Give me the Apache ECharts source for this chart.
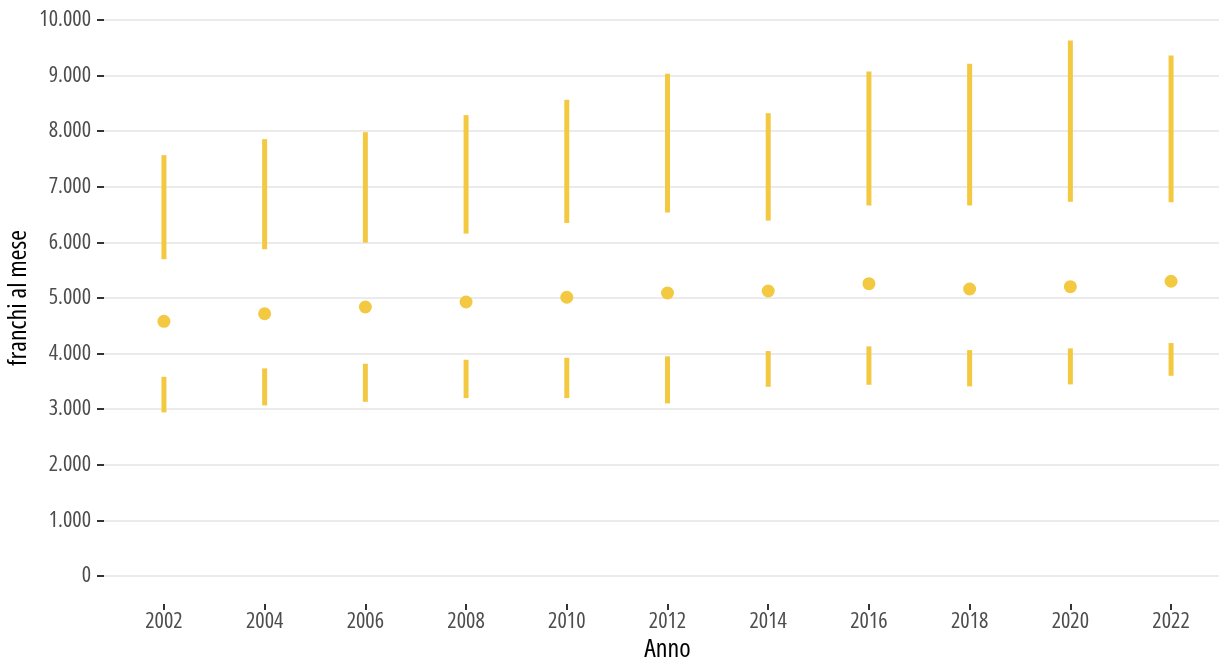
<!DOCTYPE html>
<html>
<head>
<meta charset="utf-8">
<script src="https://cdn.jsdelivr.net/npm/echarts@6/dist/echarts.min.js"></script>
<style>
html,body{margin:0;padding:0;background:#fff;}
#chart{width:1219px;height:661px;}
</style>
</head>
<body>
<div id="chart"></div>
<script>
const years = [2002, 2004, 2006, 2008, 2010, 2012, 2014, 2016, 2018, 2020, 2022];
const upperLow  = [5697, 5877, 5996, 6158, 6350, 6536, 6392, 6662, 6662, 6729, 6723];
const upperHigh = [7569, 7857, 7983, 8289, 8565, 9033, 8325, 9075, 9213, 9633, 9363];
const median    = [4580, 4717, 4838, 4928, 5013, 5090, 5126, 5258, 5162, 5204, 5301];
const lowerLow  = [2942, 3068, 3133, 3200, 3200, 3104, 3403, 3439, 3410, 3446, 3601];
const lowerHigh = [3583, 3734, 3817, 3889, 3925, 3950, 4046, 4130, 4064, 4094, 4190];

const COLOR = '#F4C942';
const FONT = '"Open Sans", sans-serif';
const STRETCH = 'condensed';

function rangeData(lo, hi) { return years.map((y, i) => [y, lo[i], hi[i]]); }
function renderRange(params, api) {
  const a = api.coord([api.value(0), api.value(1)]);
  const b = api.coord([api.value(0), api.value(2)]);
  return {
    type: 'rect',
    shape: { x: a[0] - 2.5, y: b[1], width: 5, height: a[1] - b[1] },
    style: { fill: COLOR }
  };
}
function fmt(v) { return String(v).replace(/\B(?=(\d{3})+(?!\d))/g, '.'); }

const chart = echarts.init(document.getElementById('chart'), null, { renderer: 'canvas' });
chart.setOption({
  animation: false,
  backgroundColor: '#ffffff',
  grid: { left: 104, right: -12, top: 20, bottom: 85, containLabel: false, outerBoundsMode: 'none' },
  xAxis: {
    type: 'value',
    min: 2000.81, max: 2023.19,
    offset: 28,
    name: 'Anno', nameLocation: 'middle', nameGap: 33, nameMoveOverlap: false,
    nameTextStyle: { fontFamily: FONT, fontStyle: STRETCH, fontSize: 26, color: '#000' },
    axisLine: { show: false, onZero: false },
    axisTick: { show: true, length: 6, lineStyle: { color: '#333', width: 2 }, customValues: years },
    axisLabel: { customValues: years, margin: 7, fontFamily: FONT, fontStyle: STRETCH, fontSize: 22, color: '#4D4D4D', formatter: v => String(v) },
    splitLine: { show: false }
  },
  yAxis: {
    type: 'value',
    min: 0, max: 10000, interval: 1000,
    name: 'franchi al mese', nameLocation: 'middle', nameGap: 72, nameMoveOverlap: false,
    nameTextStyle: { fontFamily: FONT, fontStyle: STRETCH, fontSize: 26, color: '#000' },
    axisLine: { show: false, onZero: false },
    axisTick: { show: true, length: 7, lineStyle: { color: '#333', width: 2 } },
    axisLabel: { margin: 13, fontFamily: FONT, fontStyle: STRETCH, fontSize: 22, color: '#4D4D4D', formatter: fmt },
    splitLine: { show: true, lineStyle: { color: '#EBEBEB', width: 2 } }
  },
  series: [
    { type: 'custom', renderItem: renderRange, data: rangeData(upperLow, upperHigh), encode: { x: 0, y: [1, 2] } },
    { type: 'custom', renderItem: renderRange, data: rangeData(lowerLow, lowerHigh), encode: { x: 0, y: [1, 2] } },
    { type: 'scatter', symbol: 'circle', symbolSize: 13, itemStyle: { color: COLOR, opacity: 1 },
      data: years.map((y, i) => [y, median[i]]) }
  ]
});
</script>
</body>
</html>
